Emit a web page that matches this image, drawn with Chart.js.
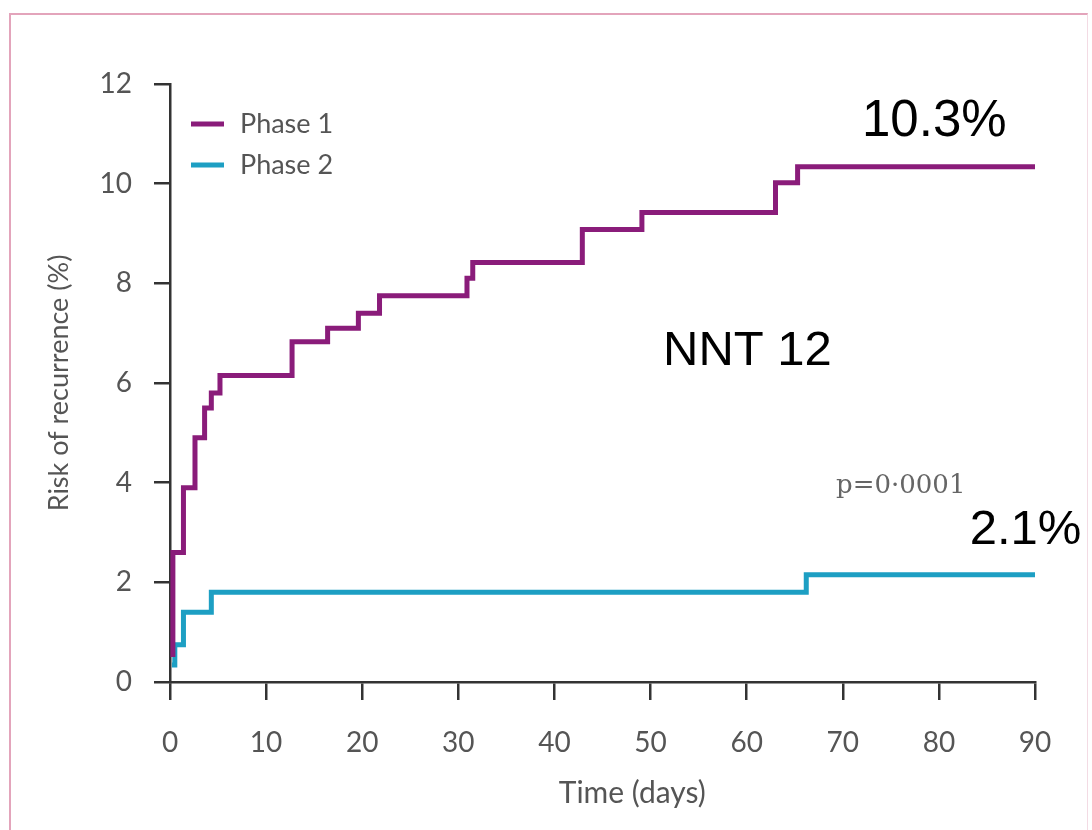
<!DOCTYPE html>
<html>
<head>
<meta charset="utf-8">
<script src="https://cdn.jsdelivr.net/npm/chart.js@4"></script>
<style>
  body { margin: 0; background: #fff; }
  #wrap { position: relative; width: 1092px; height: 830px; }
  #frame { position: absolute; left: 9px; top: 13px; width: 1076px; height: 830px;
           border-left: 2px solid #e3a4bb; border-top: 2px solid #e3a4bb; border-right: 1px solid #f3dbe4;
           pointer-events: none; }
</style>
</head>
<body>
<div id="wrap">
  <canvas id="chart-recurrence"></canvas>
  <div id="frame"></div>
</div>
<script>
// Kaplan-Meier style cumulative risk
const phase1Days = [0.3, 0.3, 1.4, 2.6, 3.6, 4.3, 5.2, 12.7, 16.4, 19.6, 21.8, 30.9, 31.5, 42.9, 49.1, 63.0, 65.3, 90];
const phase1Risk = [0.5, 2.6, 3.9, 4.9, 5.5, 5.8, 6.15, 6.83, 7.1, 7.4, 7.75, 8.1, 8.42, 9.08, 9.42, 10.02, 10.34, 10.34];
const phase2Days = [0.2, 0.5, 1.4, 4.3, 66.2, 90];
const phase2Risk = [0.34, 0.75, 1.4, 1.8, 2.15, 2.15];
const seriesLabels = ['Phase 1', 'Phase 2'];
const xTicks = [0, 10, 20, 30, 40, 50, 60, 70, 80, 90];
const yTicks = [0, 2, 4, 6, 8, 10, 12];

// text notes placed in data units
const notes = [
  { text: '10.3%', x: 72.0, y: 11.24, font: '51px "Liberation Sans"', color: '#000', align: 'left' },
  { text: 'NNT 12', x: 51.3, y: 6.63, font: '49px "Liberation Sans"', color: '#000', align: 'left' },
  { text: 'p=0·0001', x: 69.3, y: 3.92, font: '26px "DejaVu Serif"', color: '#666', align: 'left' },
  { text: '2.1%', x: 83.2, y: 3.05, font: '49px "Liberation Sans"', color: '#000', align: 'left' },
  { text: 'Time (days)', x: 48.1, y: -2.23, font: '30px Lato', color: '#555', align: 'center' }
];

const toPoints = (xs, ys) => xs.map((x, i) => ({ x: x, y: ys[i] }));
const axisColor = '#333';
const tickFont = { family: 'Lato', size: 28 };

const innerLegend = {
  id: 'innerLegend',
  afterDraw(chart) {
    const ctx = chart.ctx;
    const area = chart.chartArea;
    ctx.save();
    ctx.font = '27px Lato';
    ctx.textBaseline = 'middle';
    chart.data.datasets.forEach((ds, i) => {
      const y = area.top + 40 + i * 41;
      ctx.strokeStyle = ds.borderColor;
      ctx.lineWidth = 5;
      ctx.beginPath();
      ctx.moveTo(area.left + 21, y);
      ctx.lineTo(area.left + 54, y);
      ctx.stroke();
      ctx.fillStyle = '#555';
      ctx.fillText(ds.label, area.left + 70, y);
    });
    ctx.restore();
  }
};

const textNotes = {
  id: 'textNotes',
  afterDraw(chart) {
    const ctx = chart.ctx;
    const xs = chart.scales.x, ys = chart.scales.y;
    ctx.save();
    ctx.textBaseline = 'middle';
    notes.forEach(n => {
      ctx.font = n.font;
      ctx.fillStyle = n.color;
      ctx.textAlign = n.align;
      ctx.fillText(n.text, xs.getPixelForValue(n.x), ys.getPixelForValue(n.y));
    });
    ctx.restore();
  }
};

const ctx_rec = document.getElementById('chart-recurrence');

new Chart(ctx_rec, {
  type: 'line',
  data: {
    datasets: [
      {
        label: seriesLabels[0],
        data: toPoints(phase1Days, phase1Risk),
        borderColor: '#8a1c7a',
        borderWidth: 5,
        pointRadius: 0,
        stepped: 'before',
        fill: false
      },
      {
        label: seriesLabels[1],
        data: toPoints(phase2Days, phase2Risk),
        borderColor: '#1d9fc3',
        borderWidth: 5,
        pointRadius: 0,
        stepped: 'before',
        fill: false
      }
    ]
  },
  options: {
    responsive: true,
    maintainAspectRatio: false,
    animation: false,
    layout: { padding: { left: 20, top: 84, right: 57, bottom: 20 } },
    plugins: { legend: { display: false }, tooltip: { enabled: false } },
    scales: {
      x: {
        type: 'linear',
        min: 0,
        max: 90,
        afterFit: s => { s.height = 128; },
        afterBuildTicks: s => { s.ticks = xTicks.map(v => ({ value: v })); },
        border: { color: axisColor, width: 2.5 },
        grid: { drawOnChartArea: false, color: axisColor, lineWidth: 2.5, tickLength: 18 },
        ticks: { color: '#555', font: tickFont, padding: 26, maxRotation: 0 }
      },
      y: {
        min: 0,
        max: 12,
        afterFit: s => { s.width = 150; },
        afterBuildTicks: s => { s.ticks = yTicks.map(v => ({ value: v })); },
        border: { color: axisColor, width: 2.5 },
        grid: { drawOnChartArea: false, color: axisColor, lineWidth: 2.5, tickLength: 16 },
        ticks: { color: '#555', font: tickFont, padding: 22 },
        title: { display: true, text: 'Risk of recurrence (%)', color: '#555',
                 font: { family: 'Lato', size: 27, lineHeight: 1 }, padding: { top: 26, bottom: 0 } }
      }
    }
  },
  plugins: [innerLegend, textNotes]
});
</script>
</body>
</html>
